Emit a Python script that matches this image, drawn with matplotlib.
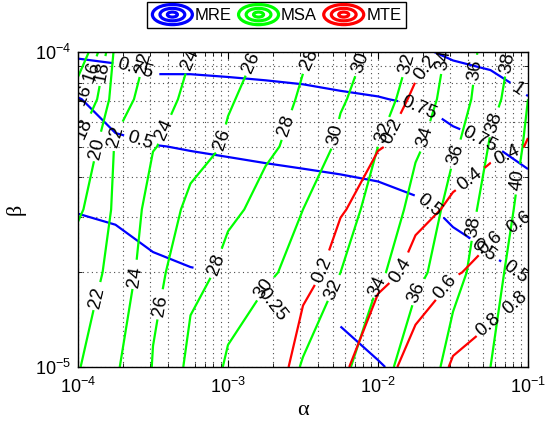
import numpy as np
import matplotlib
matplotlib.use("Agg")
import matplotlib.pyplot as plt
from matplotlib.lines import Line2D
from matplotlib.patches import Ellipse
from matplotlib.legend_handler import HandlerBase

plt.rcParams['font.family'] = ['Liberation Sans', 'DejaVu Sans']
plt.rcParams['mathtext.fontset'] = 'custom'
plt.rcParams['mathtext.rm'] = 'Liberation Sans'
plt.rcParams['mathtext.it'] = 'Liberation Sans:italic'

# sampling grid (log10 of alpha / beta)
alpha_exp = [-4, -3.75, -3.5, -3.25, -3, -2.75, -2.5, -2.25, -2, -1.75, -1.5, -1.25, -1]
beta_exp = [-5, -4.7, -4.5, -4.3, -4.15, -4]

# MRE (blue), nan = no data
mre = [
    [0.08, 0.07, 0.08, 0.10, np.nan, np.nan, np.nan, 0.197, 0.243, 0.29, 0.33, 0.36, 0.38],
    [0.16, 0.15, 0.21, 0.24, np.nan, np.nan, np.nan, 0.35, 0.377, 0.39, 0.43, 0.47, 0.517],
    [0.258, 0.29, 0.355, 0.384, 0.404, 0.42, 0.437, 0.45, 0.465, 0.476, 0.534, 0.603, 0.653],
    [0.397, 0.46, 0.495, 0.511, 0.524, 0.536, 0.543, 0.55, 0.555, 0.61, 0.69, 0.747, 0.818],
    [0.49, 0.62, 0.664, 0.674, 0.69, 0.705, 0.715, 0.73, 0.742, 0.776, 0.845, 0.905, 0.99],
    [0.80, 0.80, 0.84, 0.83, 0.83, 0.83, 0.84, 0.86, 0.90, 0.97, 1.04, 1.07, 1.165],
]

# MSA (green)
msa = [
    [21.9, 23.8, 26.1, 28.6, 30.3, 31.2, 32.1, 33.6, 35.4, 37.1, 38.6, 40.0, 41.4],
    [21.0, 22.7, 25.5, 27.3, 28.6, 29.7, 30.8, 32.0, 33.7, 35.5, 37.4, 39.4, 41.4],
    [19.7, 22.4, 24.9, 26.5, 27.6, 28.7, 30.0, 31.3, 32.8, 34.7, 36.8, 38.9, 40.9],
    [18.2, 22.2, 23.9, 25.1, 26.3, 27.6, 28.9, 30.4, 32.0, 33.7, 35.7, 38.2, 40.4],
    [15.5, 21.2, 23.1, 24.6, 25.8, 27.1, 28.3, 29.8, 31.3, 33.0, 35.0, 37.4, 40.0],
    [12.0, 20.6, 22.4, 23.9, 25.1, 26.4, 27.7, 29.1, 30.7, 32.3, 34.6, 37.0, 39.3],
]

# MTE (red)
mte = [
    [0, 0, 0, 0, 0.02, 0.136, 0.253, 0.37, 0.533, 0.684, 0.82, 0.88, 0.94],
    [0, 0, 0, 0, 0.0, 0.068, 0.16, 0.253, 0.346, 0.453, 0.583, 0.672, 0.75],
    [0, 0, 0, 0, 0.0, 0.03, 0.112, 0.19, 0.273, 0.354, 0.43, 0.504, 0.577],
    [0, 0, 0, 0, 0.0, 0.03, 0.086, 0.14, 0.193, 0.246, 0.30, 0.354, 0.407],
    [0, 0, 0, 0, 0.0, 0.01, 0.063, 0.113, 0.163, 0.213, 0.263, 0.313, 0.362],
    [0, 0, 0, 0, 0.0, 0.0, 0.024, 0.074, 0.124, 0.174, 0.224, 0.274, 0.324],
]

mre_levels = [0.25, 0.5, 0.75, 1.0]
msa_levels = [14, 16, 18, 20, 22, 24, 26, 28, 30, 32, 34, 36, 38, 40]
mte_levels = [0.2, 0.4, 0.6, 0.8]

# where labels sit (pixel positions in the 545x423 picture)
mre_lab_px = [(140, 142), (133, 77), (418, 110), (480, 140), (430, 205), (483, 250), (515, 273), (517, 90)]
msa_lab_px = [(84, 95), (88, 70), (83, 128), (95, 148), (105, 72), (98, 298), (118, 137), (143, 63),
              (133, 277), (165, 130), (190, 60), (157, 305), (222, 140), (250, 62),
              (218, 265), (285, 125), (310, 60), (265, 290), (338, 135), (358, 62),
              (328, 287), (385, 133), (405, 63), (380, 287), (428, 138), (443, 60),
              (417, 293), (460, 157), (473, 70), (473, 227), (495, 123), (505, 62), (518, 180)]
mte_lab_px = [(323, 270), (390, 130), (428, 70), (400, 270), (472, 182), (513, 167),
              (447, 288), (492, 245), (523, 228), (490, 327), (522, 310)]


def px2data(x, y):
    return 10 ** (-4 + (x - 78) / 150.0), 10 ** (-4 - (y - 52) / 315.0)


class RingsHandler(HandlerBase):
    def create_artists(self, legend, orig_handle, xdescent, ydescent,
                       width, height, fontsize, trans):
        c = orig_handle.get_color()
        cx = width / 2 - xdescent
        cy = height / 2 - ydescent
        arts = []
        for s in (1.0, 0.62, 0.25):
            arts.append(Ellipse((cx, cy), width * s, height * 1.35 * s, fill=False,
                                edgecolor=c, lw=2.3, transform=trans))
        return arts


A, B = np.meshgrid(10.0 ** np.array(alpha_exp), 10.0 ** np.array(beta_exp))

fig = plt.figure(figsize=(5.45, 4.23), dpi=100)
ax = fig.add_axes([78 / 545, 56 / 423, 450 / 545, 315 / 423])
ax.set_xscale('log')
ax.set_yscale('log')
ax.set_xlim(1e-4, 1e-1)
ax.set_ylim(1e-5, 1e-4)

cb = ax.contour(A, B, np.array(mre), levels=mre_levels, colors=[(0, 0, 1)], linewidths=1.6)
cg = ax.contour(A, B, np.array(msa), levels=msa_levels, colors=[(0, 1, 0)], linewidths=1.6)
cr = ax.contour(A, B, np.array(mte), levels=mte_levels, colors=[(1, 0, 0)], linewidths=1.6)

lab_fs = 13.5
ax.clabel(cb, manual=[px2data(*p) for p in mre_lab_px], inline=True, fmt='%g', fontsize=lab_fs, colors='k')
ax.clabel(cg, manual=[px2data(*p) for p in msa_lab_px], inline=True, fmt='%g', fontsize=lab_fs, colors='k')
ax.clabel(cr, manual=[px2data(*p) for p in mte_lab_px], inline=True, fmt='%g', fontsize=lab_fs, colors='k')

lx, ly = px2data(272, 305)
ax.text(lx, ly, '0.25', fontsize=lab_fs, rotation=-52, ha='center', va='center')

ax.grid(True, which='both', linestyle=(0, (1, 3)), color='0.3', linewidth=0.8)
ax.tick_params(which='both', direction='in', top=True, right=True, labelsize=13)
ax.tick_params(axis='x', which='major', pad=7)
ax.tick_params(axis='y', which='major', pad=5)
ax.tick_params(which='major', length=5)
ax.tick_params(which='minor', length=3)
for sp in ax.spines.values():
    sp.set_linewidth(1.0)

ax.set_xlabel('α', family=['Liberation Serif'], fontsize=16, labelpad=3)
ax.set_ylabel('β', family=['Liberation Serif'], fontsize=16, labelpad=7)

handles = [Line2D([], [], color=(0, 0, 1)), Line2D([], [], color=(0, 1, 0)), Line2D([], [], color=(1, 0, 0))]
leg = fig.legend(handles, ['MRE', 'MSA', 'MTE'], loc='upper center', bbox_to_anchor=(0.508, 0.995),
                 ncol=3, fontsize=12, frameon=True, fancybox=False, framealpha=1,
                 edgecolor='k', handlelength=2.4, handleheight=1.0, handletextpad=0.15,
                 columnspacing=0.4, borderpad=0.3, borderaxespad=0.0,
                 handler_map={Line2D: RingsHandler()})
leg.get_frame().set_linewidth(1.0)

fig.savefig('out.png', dpi=100)
